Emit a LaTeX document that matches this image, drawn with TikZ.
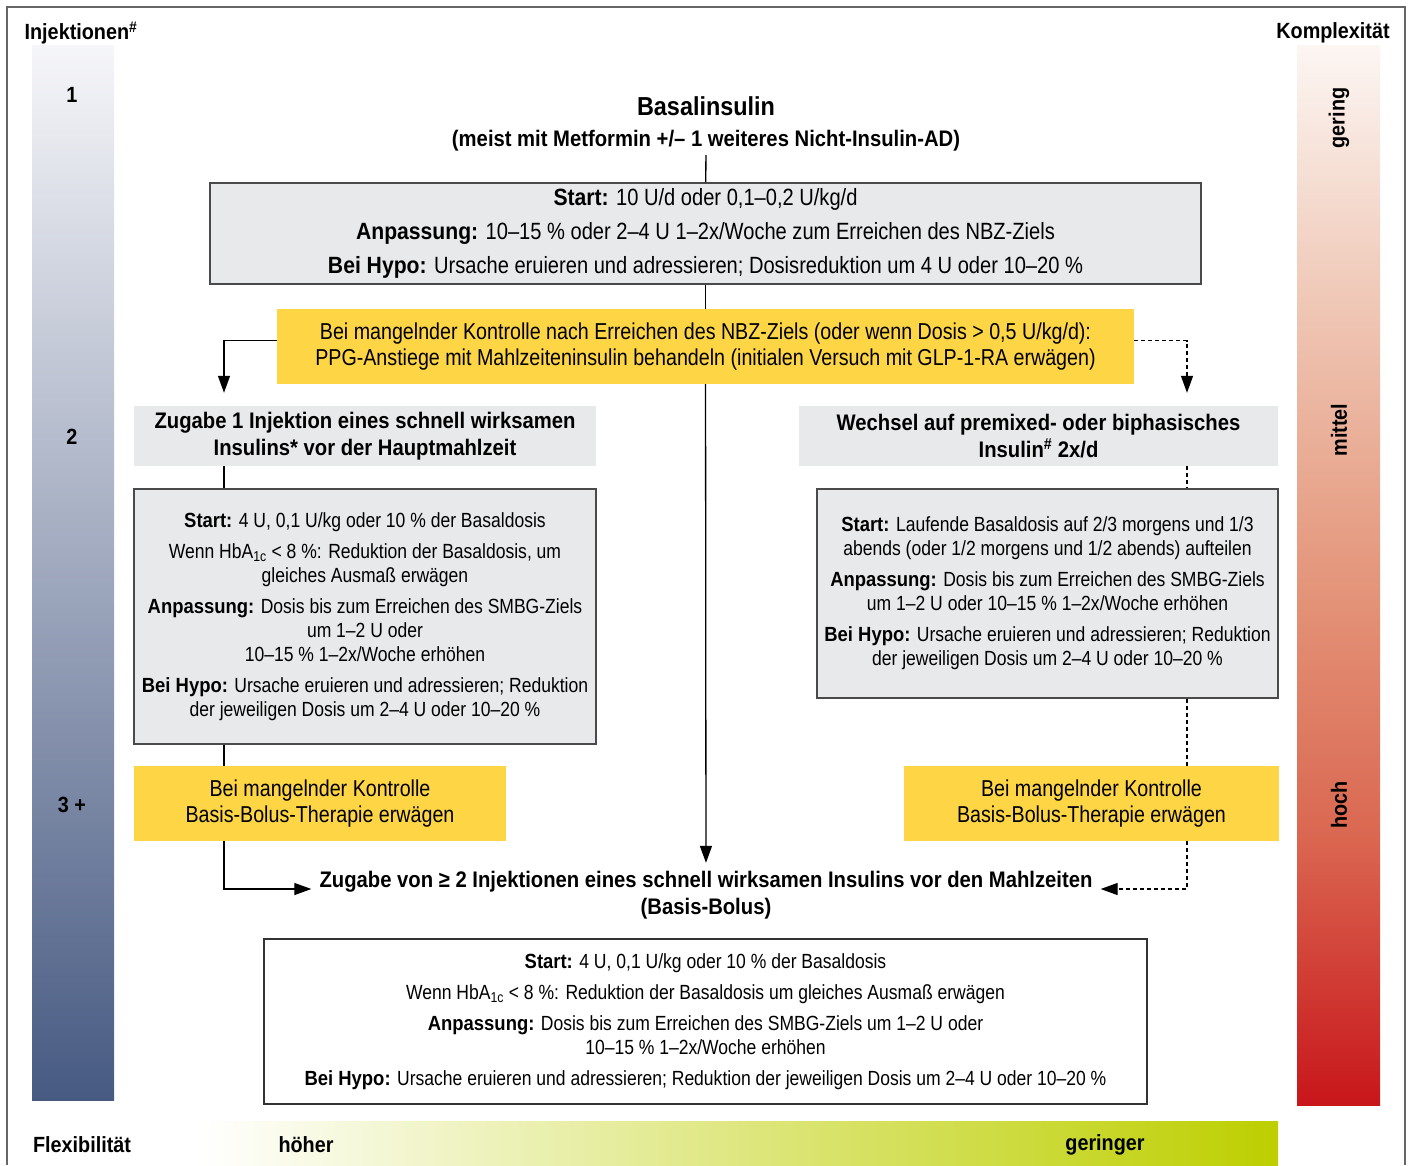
\documentclass[tikz,border=0pt]{standalone}
\usepackage{fontspec}
\setmainfont{Liberation Sans}[FakeStretch=0.855, BoldFeatures={FakeStretch=0.9}]
\usepackage{tikz}
\usetikzlibrary{arrows.meta, positioning, calc}

\definecolor{boxgray}{HTML}{E8E9EB}
\definecolor{boxline}{HTML}{4A4A4A}
\definecolor{notebg}{HTML}{FDD545}
\definecolor{injtop}{HTML}{F6F6F9}
\definecolor{injbottom}{HTML}{475A82}
\definecolor{cplxtop}{HTML}{FCF6F3}
\definecolor{cplxquarter}{HTML}{EFC6B4}
\definecolor{cplxmid}{HTML}{E4977C}
\definecolor{cplxlow}{HTML}{DA6650}
\definecolor{cplxbottom}{HTML}{C8161B}
\definecolor{flexgreen}{HTML}{BDCF00}
\definecolor{framegray}{HTML}{666666}

\pgfdeclareverticalshading{cplxshade}{100bp}{color(0bp)=(cplxbottom); color(25bp)=(cplxbottom);
  color(37.5bp)=(cplxlow); color(50bp)=(cplxmid); color(62.5bp)=(cplxquarter);
  color(75bp)=(cplxtop); color(100bp)=(cplxtop)}

\newcommand{\titlesize}{\fontsize{26}{31}\selectfont}
\newcommand{\boxsize}{\fontsize{23.5}{34}\selectfont}
\newcommand{\notesize}{\fontsize{23}{26.5}\selectfont}
\newcommand{\headsize}{\fontsize{22.5}{27}\selectfont}
\newcommand{\detailsize}{\fontsize{20.5}{24}\selectfont}
\newcommand{\labelsize}{\fontsize{22}{26}\selectfont}

\begin{document}
\begin{tikzpicture}[x=1pt, y=-1pt, >={Triangle[length=17pt, width=12pt]},
      graybox/.style={draw=boxline, fill=boxgray, line width=1.3pt, align=center, inner sep=0pt, font=\detailsize},
      headbox/.style={fill=boxgray, align=center, inner sep=0pt, font=\headsize\bfseries},
      notebox/.style={fill=notebg, align=center, inner sep=0pt, font=\notesize},
      plain/.style={line width=1.3pt},
      link/.style={->, line width=1.3pt},
      maybelink/.style={->, line width=1.3pt, dash pattern=on 4pt off 3pt},
      dashedline/.style={line width=1.3pt, dash pattern=on 4pt off 3pt},
      label_text/.style={font=\labelsize\bfseries}
  ]

  \useasboundingbox (0,0) rectangle (1413,1165);

  % Frame
  \draw[framegray, line width=1.2pt] (7,1165) -- (7,7) -- (1405,7) -- (1405,1165);

  % Scales on the sides and at the bottom
  \shade[top color=injtop, bottom color=injbottom] (32,45) rectangle (114,1100);
  \shade[shading=cplxshade] (1297,45) rectangle (1380,1105);
  \shade[left color=white, right color=flexgreen] (200,1121) rectangle (1278,1165);

  \node[label_text] (injlabel) at (81,33) {Injektionen\textsuperscript{\#}};
  \node[label_text] (inj1) at (72,95) {1};
  \node[label_text] (inj2) at (72,437) {2};
  \node[label_text] (inj3) at (72,805) {3 +};

  \node[label_text] (cplxlabel) at (1333,33) {Komplexität};
  \node[label_text, rotate=90] (gering) at (1339,118) {gering};
  \node[label_text, rotate=90] (mittel) at (1339,430) {mittel};
  \node[label_text, rotate=90] (hoch) at (1339,805) {hoch};

  \node[label_text] (flexlabel) at (82,1145) {Flexibilität};
  \node[label_text] (hoeher) at (306,1145) {höher};
  \node[label_text] (geringer) at (1105,1145) {geringer};

  % Column positions of the side branches
  \coordinate (lx) at (224,0);
  \coordinate (rx) at (1187,0);

  % Basal insulin
  \node[font=\titlesize\bfseries] (title) at (706,106) {Basalinsulin};
  \node[font=\headsize\bfseries] (subtitle) at (706,141) {(meist mit Metformin +/– 1 weiteres Nicht-Insulin-AD)};

  \node[graybox, font=\boxsize, minimum width=991, minimum height=101] (startbox) at (705.5,233.5)
    {\textbf{Start:} 10 U/d oder 0,1–0,2 U/kg/d\\
     \textbf{Anpassung:} 10–15 \% oder 2–4 U 1–2x/Woche zum Erreichen des NBZ-Ziels\\
     \textbf{Bei Hypo:} Ursache eruieren und adressieren; Dosisreduktion um 4 U oder 10–20 \%};

  \node[notebox, minimum width=857, minimum height=75] (ppg) at (705.5,346.5)
    {Bei mangelnder Kontrolle nach Erreichen des NBZ-Ziels (oder wenn Dosis > 0,5 U/kg/d):\\
     PPG-Anstiege mit Mahlzeiteninsulin behandeln (initialen Versuch mit GLP-1-RA erwägen)};

  % Left branch
  \node[headbox, minimum width=462, minimum height=60] (prandial) at (365,436)
    {Zugabe 1 Injektion eines schnell wirksamen\\ Insulins* vor der Hauptmahlzeit};

  \node[graybox, minimum width=462, minimum height=255] (prandialdose) at (365,616.5)
    {\textbf{Start:} 4 U, 0,1 U/kg oder 10 \% der Basaldosis\\[7pt]
     Wenn HbA\textsubscript{1c} < 8 \%: Reduktion der Basaldosis, um\\ gleiches Ausmaß erwägen\\[7pt]
     \textbf{Anpassung:} Dosis bis zum Erreichen des SMBG-Ziels\\ um 1–2 U oder\\ 10–15 \% 1–2x/Woche erhöhen\\[7pt]
     \textbf{Bei Hypo:} Ursache eruieren und adressieren; Reduktion\\ der jeweiligen Dosis um 2–4 U oder 10–20 \%};

  \node[notebox, minimum width=372, minimum height=75] (bbleft) at (320,803.5)
    {Bei mangelnder Kontrolle\\ Basis-Bolus-Therapie erwägen};

  % Right branch
  \node[headbox, minimum width=479, minimum height=60] (premix) at (1038.5,436)
    {Wechsel auf premixed- oder biphasisches\\ Insulin\textsuperscript{\#} 2x/d};

  \node[graybox, minimum width=461, minimum height=209] (premixdose) at (1047.5,593.5)
    {\textbf{Start:} Laufende Basaldosis auf 2/3 morgens und 1/3\\ abends (oder 1/2 morgens und 1/2 abends) aufteilen\\[7pt]
     \textbf{Anpassung:} Dosis bis zum Erreichen des SMBG-Ziels\\ um 1–2 U oder 10–15 \% 1–2x/Woche erhöhen\\[7pt]
     \textbf{Bei Hypo:} Ursache eruieren und adressieren; Reduktion\\ der jeweiligen Dosis um 2–4 U oder 10–20 \%};

  \node[notebox, minimum width=375, minimum height=75] (bbright) at (1091.5,803.5)
    {Bei mangelnder Kontrolle\\ Basis-Bolus-Therapie erwägen};

  % Basis-Bolus
  \node[font=\headsize\bfseries, align=center, inner sep=8pt] (basisbolus) at (706,895)
    {Zugabe von ≥ 2 Injektionen eines schnell wirksamen Insulins vor den Mahlzeiten\\ (Basis-Bolus)};

  \node[graybox, fill=white, draw=black!80, minimum width=883, minimum height=165] (bbdose) at (705.5,1021.5)
    {\textbf{Start:} 4 U, 0,1 U/kg oder 10 \% der Basaldosis\\[7pt]
     Wenn HbA\textsubscript{1c} < 8 \%: Reduktion der Basaldosis um gleiches Ausmaß erwägen\\[7pt]
     \textbf{Anpassung:} Dosis bis zum Erreichen des SMBG-Ziels um 1–2 U oder\\ 10–15 \% 1–2x/Woche erhöhen\\[7pt]
     \textbf{Bei Hypo:} Ursache eruieren und adressieren; Reduktion der jeweiligen Dosis um 2–4 U oder 10–20 \%};

  % Connectors
  \draw[plain] (subtitle) -- (startbox);
  \draw[plain] (startbox) -- (ppg);
  \draw[link] (ppg) -- (basisbolus);
  \draw[link, shorten >=13pt] ([yshift=6pt]ppg.west) -| (prandial.north -| lx);
  \draw[maybelink, shorten >=13pt] ([yshift=6pt]ppg.east) -| (premix.north -| rx);
  \draw[plain] (prandial.south -| lx) -- (prandialdose.north -| lx);
  \draw[plain] (prandialdose.south -| lx) -- (bbleft.north -| lx);
  \draw[link] (bbleft.south -| lx) |- ([yshift=6pt]basisbolus.west);
  \draw[dashedline] (premix.south -| rx) -- (premixdose.north -| rx);
  \draw[dashedline] (premixdose.south -| rx) -- (bbright.north -| rx);
  \draw[maybelink] (bbright.south -| rx) |- ([yshift=6pt]basisbolus.east);

\end{tikzpicture}
\end{document}
